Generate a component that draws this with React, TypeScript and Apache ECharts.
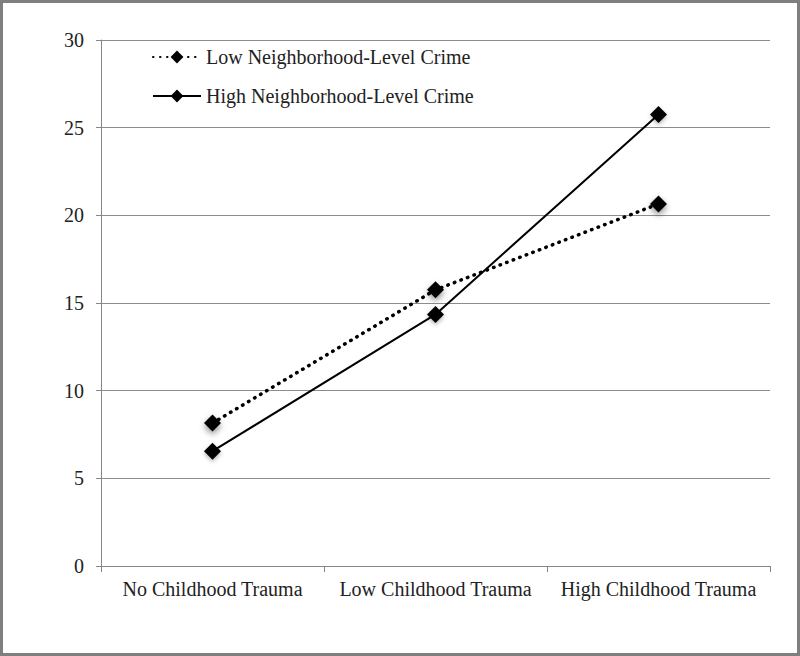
import React, { useEffect, useRef } from "react";
import * as echarts from "echarts";

const categories = ["No Childhood Trauma", "Low Childhood Trauma", "High Childhood Trauma"];
const lowCrime = [8.15, 15.75, 20.65];
const highCrime = [6.55, 14.35, 25.75];
const seriesNames = ["Low Neighborhood-Level Crime", "High Neighborhood-Level Crime"];

const FONT = "'Liberation Serif', 'Times New Roman', serif";

export default function App() {
  const ref = useRef<HTMLDivElement>(null);
  useEffect(() => {
    document.body.style.margin = "0";
    const chart = echarts.init(ref.current!, null, { renderer: "svg" });
    const markerStyle = {
      color: "#000",
      shadowColor: "rgba(0,0,0,0.45)",
      shadowBlur: 6,
      shadowOffsetY: 3,
    };
    chart.setOption({
      animation: false,
      backgroundColor: "#fff",
      graphic: [
        {
          type: "rect",
          shape: { x: 1.5, y: 1.5, width: 797, height: 653 },
          style: { fill: "none", stroke: "#7f7f7f", lineWidth: 3 },
          silent: true,
        },
      ],
      grid: { left: 101, right: 30, top: 40, bottom: 90, containLabel: false },
      legend: {
        orient: "vertical",
        left: 147,
        top: 42,
        itemWidth: 48,
        itemHeight: 16,
        itemGap: 19,
        textStyle: { fontFamily: FONT, fontSize: 20, color: "#222" },
        data: seriesNames,
      },
      xAxis: {
        type: "category",
        data: categories,
        boundaryGap: true,
        axisLine: { show: true, lineStyle: { color: "#868686", width: 1 } },
        axisTick: { show: true, length: 6, lineStyle: { color: "#868686" } },
        axisLabel: { fontFamily: FONT, fontSize: 20, color: "#222", margin: 13, interval: 0 },
        splitLine: { show: false },
      },
      yAxis: {
        type: "value",
        min: 0,
        max: 30,
        interval: 5,
        axisLine: { show: true, lineStyle: { color: "#868686", width: 1 } },
        axisTick: { show: true, length: 5, lineStyle: { color: "#868686" } },
        axisLabel: { fontFamily: FONT, fontSize: 20, color: "#222", margin: 17 },
        splitLine: { show: true, lineStyle: { color: "#8c8c8c", width: 1 } },
      },
      series: [
        {
          name: seriesNames[0],
          type: "line",
          data: lowCrime,
          symbol: "diamond",
          symbolSize: 17,
          lineStyle: { color: "#000", width: 3.5, type: [0.5, 6.5], cap: "round" },
          itemStyle: markerStyle,
        },
        {
          name: seriesNames[1],
          type: "line",
          data: highCrime,
          symbol: "diamond",
          symbolSize: 17,
          lineStyle: { color: "#000", width: 2 },
          itemStyle: { color: "#000", shadowColor: "rgba(0,0,0,0.3)", shadowBlur: 4, shadowOffsetY: 2 },
        },
      ],
    });
    return () => chart.dispose();
  }, []);
  return (
    <div
      ref={ref}
      style={{ position: "absolute", left: 0, top: 0, width: 800, height: 656 }}
    />
  );
}
